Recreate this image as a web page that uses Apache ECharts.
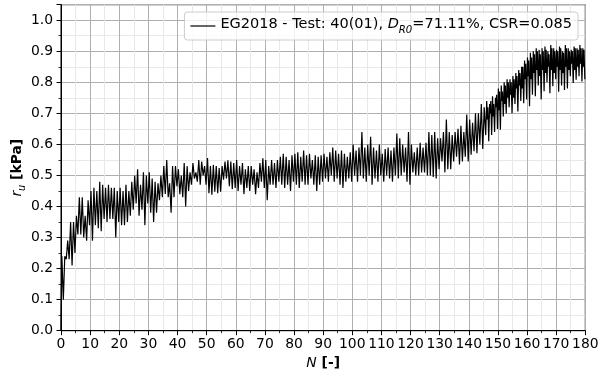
<!DOCTYPE html>
<html>
<head>
<meta charset="utf-8">
<script src="https://cdn.jsdelivr.net/npm/echarts@6/dist/echarts.min.js"></script>
<style>
  html, body { margin: 0; padding: 0; background: #fff; }
  #chart { width: 610px; height: 376px; }
</style>
</head>
<body>
<div id="chart"></div>
<script>
// Pore pressure ratio r_u against number of loading cycles N.
const FONT = 'DejaVu Sans';

// Axis extents and tick steps
const xRange = [0, 180];
const xStep = 10;
const yRange = [0, 1.05];
const yStep = 0.1;

const seriesName = 'EG2018 - Test: 40(01), D_R0=71.11%, CSR=0.085';

// Initial reading before the first cycle: [N, r_u]
const startPoint = [0, 0.0];

// Peak r_u in each loading cycle N = 0 .. 179
const peak = [
  0.24, 0.24, 0.29, 0.35, 0.35, 0.37, 0.43, 0.43, 0.37, 0.42,
  0.45, 0.46, 0.45, 0.48, 0.47, 0.46, 0.47, 0.46, 0.46, 0.45,
  0.46, 0.45, 0.47, 0.45, 0.48, 0.50, 0.52, 0.47, 0.51, 0.50,
  0.51, 0.49, 0.48, 0.475, 0.50, 0.53, 0.55, 0.475, 0.53, 0.53,
  0.52, 0.50, 0.54, 0.53, 0.51, 0.54, 0.51, 0.55, 0.545, 0.53,
  0.556, 0.53, 0.534, 0.53, 0.524, 0.53, 0.545, 0.549, 0.545, 0.54,
  0.55, 0.53, 0.54, 0.52, 0.53, 0.53, 0.52, 0.51, 0.54, 0.555,
  0.55, 0.53, 0.55, 0.54, 0.55, 0.56, 0.57, 0.56, 0.55, 0.565,
  0.57, 0.575, 0.56, 0.58, 0.565, 0.57, 0.55, 0.565, 0.56, 0.565,
  0.57, 0.56, 0.575, 0.59, 0.58, 0.57, 0.58, 0.57, 0.56, 0.575,
  0.60, 0.58, 0.59, 0.64, 0.59, 0.60, 0.625, 0.59, 0.58, 0.60,
  0.57, 0.585, 0.59, 0.58, 0.59, 0.635, 0.62, 0.60, 0.59, 0.64,
  0.60, 0.575, 0.59, 0.605, 0.59, 0.605, 0.64, 0.63, 0.64, 0.62,
  0.62, 0.64, 0.68, 0.64, 0.63, 0.64, 0.65, 0.66, 0.64, 0.696,
  0.68, 0.67, 0.70, 0.70, 0.73, 0.72, 0.74, 0.73, 0.755, 0.75,
  0.78, 0.79, 0.80, 0.81, 0.81, 0.82, 0.83, 0.84, 0.85, 0.87,
  0.88, 0.895, 0.90, 0.91, 0.905, 0.91, 0.915, 0.90, 0.92, 0.91,
  0.905, 0.915, 0.90, 0.92, 0.91, 0.905, 0.915, 0.91, 0.92, 0.91
];

// Lowest r_u reached at the end of each cycle N = 0 .. 179
const trough = [
  0.10, 0.23, 0.23, 0.21, 0.25, 0.31, 0.31, 0.30, 0.29, 0.34,
  0.29, 0.34, 0.33, 0.32, 0.36, 0.35, 0.36, 0.36, 0.30, 0.35,
  0.34, 0.34, 0.35, 0.37, 0.39, 0.41, 0.37, 0.39, 0.34, 0.41,
  0.38, 0.35, 0.38, 0.42, 0.43, 0.44, 0.43, 0.38, 0.43, 0.465,
  0.44, 0.43, 0.40, 0.45, 0.47, 0.49, 0.48, 0.47, 0.50, 0.47,
  0.443, 0.438, 0.448, 0.443, 0.448, 0.486, 0.49, 0.465, 0.456, 0.46,
  0.45, 0.47, 0.44, 0.46, 0.45, 0.47, 0.44, 0.46, 0.48, 0.46,
  0.42, 0.47, 0.47, 0.46, 0.48, 0.47, 0.46, 0.47, 0.45, 0.48,
  0.47, 0.46, 0.48, 0.47, 0.47, 0.49, 0.47, 0.45, 0.47, 0.48,
  0.49, 0.48, 0.50, 0.48, 0.49, 0.47, 0.46, 0.48, 0.49, 0.48,
  0.50, 0.48, 0.50, 0.49, 0.48, 0.50, 0.47, 0.49, 0.48, 0.50,
  0.48, 0.50, 0.49, 0.48, 0.50, 0.49, 0.50, 0.51, 0.48, 0.47,
  0.51, 0.50, 0.50, 0.51, 0.51, 0.50, 0.50, 0.495, 0.49, 0.52,
  0.545, 0.51, 0.52, 0.52, 0.545, 0.56, 0.535, 0.545, 0.56, 0.545,
  0.567, 0.578, 0.572, 0.60, 0.585, 0.63, 0.61, 0.63, 0.64, 0.65,
  0.647, 0.69, 0.70, 0.72, 0.70, 0.73, 0.706, 0.74, 0.733, 0.745,
  0.723, 0.76, 0.755, 0.79, 0.745, 0.771, 0.80, 0.765, 0.787, 0.81,
  0.77, 0.79, 0.775, 0.78, 0.82, 0.798, 0.808, 0.82, 0.803, 0.81
];

// From N = 146 each cycle carries a second, smaller pulse near the top
const denseFrom = 146;
const notch = [
  0.68, 0.70, 0.69, 0.72, 0.71, 0.74, 0.73, 0.75, 0.76, 0.75,
  0.78, 0.79, 0.78, 0.81, 0.82, 0.81, 0.83, 0.84, 0.82, 0.84,
  0.83, 0.85, 0.84, 0.83, 0.85, 0.84, 0.83, 0.85, 0.84, 0.86,
  0.84, 0.85, 0.86, 0.85
];
const shoulder = [
  0.72, 0.74, 0.73, 0.76, 0.77, 0.77, 0.79, 0.80, 0.80, 0.81,
  0.82, 0.83, 0.85, 0.86, 0.87, 0.88, 0.89, 0.90, 0.89, 0.90,
  0.905, 0.89, 0.91, 0.90, 0.90, 0.91, 0.895, 0.91, 0.90, 0.90,
  0.91, 0.905, 0.91, 0.905
];

// Assemble the time history as [N, r_u] pairs
const points = [startPoint];
for (let k = 0; k < peak.length; k++) {
  if (k < denseFrom) {
    points.push([k + 0.3, peak[k]], [k + 0.8, trough[k]]);
  } else {
    const j = k - denseFrom;
    points.push([k + 0.15, peak[k]], [k + 0.35, notch[j]],
                [k + 0.55, shoulder[j]], [k + 0.85, trough[k]]);
  }
}

const baseText = { fontFamily: FONT, fontSize: 13.9, color: '#000' };
function richFor(size) {
  const t = { fontFamily: FONT, fontSize: size, color: '#000' };
  return {
    n: { ...t, verticalAlign: 'bottom', padding: [0, 0, 3, 0] },
    i: { ...t, fontStyle: 'italic', verticalAlign: 'bottom', padding: [0, 0, 3, 0] },
    b: { ...t, fontWeight: 'bold', verticalAlign: 'bottom', padding: [0, 0, 3, 0] },
    s: { ...t, fontSize: size * 0.7, fontStyle: 'italic', verticalAlign: 'bottom' }
  };
}

function axisCommon() {
  return {
    type: 'value',
    axisLine: { show: true, onZero: false, lineStyle: { color: '#000', width: 1 } },
    axisTick: { show: true, length: 4.5, lineStyle: { color: '#000', width: 1 } },
    minorTick: { show: true, splitNumber: 2, length: 2.5, lineStyle: { color: '#000', width: 0.8 } },
    splitLine: { show: true, lineStyle: { color: '#b0b0b0', width: 1 } },
    minorSplitLine: { show: true, lineStyle: { color: '#e8e8e8', width: 1 } },
    axisLabel: { ...baseText },
    nameLocation: 'middle',
    nameMoveOverlap: false,
    nameTextStyle: { ...baseText, rich: richFor(13.9) }
  };
}

const chart = echarts.init(document.getElementById('chart'), null, { renderer: 'canvas' });

const xAxis = axisCommon();
Object.assign(xAxis, {
  min: xRange[0], max: xRange[1], interval: xStep,
  name: '{i|N}{b| [-]}', nameGap: 26
});
xAxis.axisLabel.margin = 7;

const yAxis = axisCommon();
Object.assign(yAxis, {
  min: yRange[0], max: yRange[1], interval: yStep,
  name: '{i|r}{s|u}{b| [kPa]}', nameGap: 34, nameRotate: 90
});
yAxis.axisLabel.margin = 8;
yAxis.axisLabel.showMaxLabel = false;
yAxis.axisLabel.formatter = v => v.toFixed(1);

chart.setOption({
  animation: false,
  backgroundColor: '#fff',
  grid: {
    left: 61, right: 24.7, top: 4.7, bottom: 45.3,
    show: true, borderColor: '#000', borderWidth: 1,
    outerBoundsMode: 'none'
  },
  legend: {
    data: [seriesName],
    top: 12, right: 32,
    padding: [5, 6, 5, 6],
    icon: 'rect',
    itemWidth: 25, itemHeight: 1.2,
    backgroundColor: 'rgba(255,255,255,0.8)',
    borderColor: '#cccccc', borderWidth: 1, borderRadius: 3,
    formatter: () => '{n|EG2018 - Test: 40(01), }{i|D}{s|R0}{n|=71.11%, CSR=0.085}',
    textStyle: { ...baseText, fontSize: 14.5, rich: richFor(14.5) }
  },
  xAxis: xAxis,
  yAxis: yAxis,
  series: [{
    name: seriesName,
    type: 'line',
    data: points,
    symbol: 'none',
    showSymbol: false,
    lineStyle: { color: '#000', width: 1.2 },
    itemStyle: { color: '#000' },
    z: 3
  }]
});
</script>
</body>
</html>
